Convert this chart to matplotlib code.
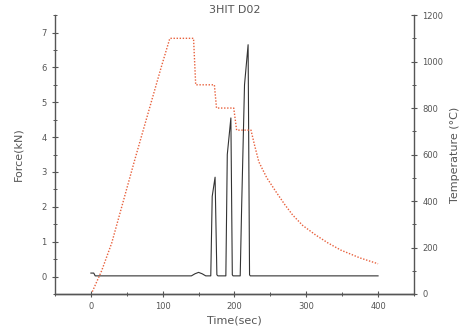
import matplotlib
matplotlib.use("Agg")
import matplotlib.pyplot as plt
from matplotlib.ticker import MultipleLocator

# Temperature (right axis)
temp_t = [2, 15, 29, 61, 98, 110, 143, 146, 172, 175, 199, 203, 223, 228, 234, 245,
          258, 270, 281, 295, 313, 330, 348, 375, 400]
temp_v = [10, 100, 219, 576, 976, 1100, 1100, 900, 900, 800, 800, 705, 705, 640, 568, 500,
          439, 385, 340, 295, 254, 220, 189, 155, 130]

# Force (left axis)
force_t = [0, 4, 6, 140, 145, 150, 155, 160, 167, 169, 173, 175.5, 177, 188, 190, 195, 197,
           198, 208, 210, 214, 219, 221, 222, 400]
force_v = [0.1, 0.1, 0.02, 0.02, 0.08, 0.12, 0.08, 0.02, 0.02, 2.3, 2.85, 0.05, 0.02, 0.02,
           3.5, 4.55, 0.05, 0.02, 0.02, 2.0, 5.5, 6.65, 0.05, 0.02, 0.02]

title = "3HIT D02"
xlabel = "Time(sec)"
ylabel_left = "Force(kN)"
ylabel_right = "Temperature (\u00b0C)"

txt = "#555555"
spc = "#555555"

fig = plt.figure(figsize=(4.62, 3.35), dpi=100)
ax = fig.add_axes([0.119, 0.1224, 0.777, 0.8326])
ax2 = ax.twinx()

ax.plot(force_t, force_v, color="#333333", lw=0.8, zorder=3)
ax2.plot(temp_t, temp_v, color="#e8603c", lw=1.0, ls=(0, (1, 1.2)), zorder=2)

ax.set_xlim(-50, 450)
ax.set_ylim(-0.5, 7.5)
ax2.set_ylim(0, 1200)

ax.xaxis.set_major_locator(MultipleLocator(100))
ax.xaxis.set_minor_locator(MultipleLocator(50))
ax.yaxis.set_major_locator(MultipleLocator(1))
ax.yaxis.set_minor_locator(MultipleLocator(0.5))
ax2.yaxis.set_major_locator(MultipleLocator(200))
ax2.yaxis.set_minor_locator(MultipleLocator(100))

for a in (ax, ax2):
    a.spines["top"].set_visible(False)
    for s in a.spines.values():
        s.set_color(spc)
        s.set_linewidth(1.0)
    a.tick_params(which="major", direction="inout", length=5, width=0.8, color=spc,
                  labelsize=6, labelcolor=txt)
    a.tick_params(which="minor", direction="inout", length=3, width=0.7, color=spc)

ax.spines["right"].set_visible(False)
ax2.spines["left"].set_visible(False)

ax.set_title(title, fontsize=8, color=txt, pad=-1)
ax.set_xlabel(xlabel, fontsize=8, color=txt, labelpad=3)
ax.set_ylabel(ylabel_left, fontsize=8, color=txt, labelpad=13)
ax2.set_ylabel(ylabel_right, fontsize=8, color=txt, labelpad=5)

fig.savefig("out.png", dpi=100)
